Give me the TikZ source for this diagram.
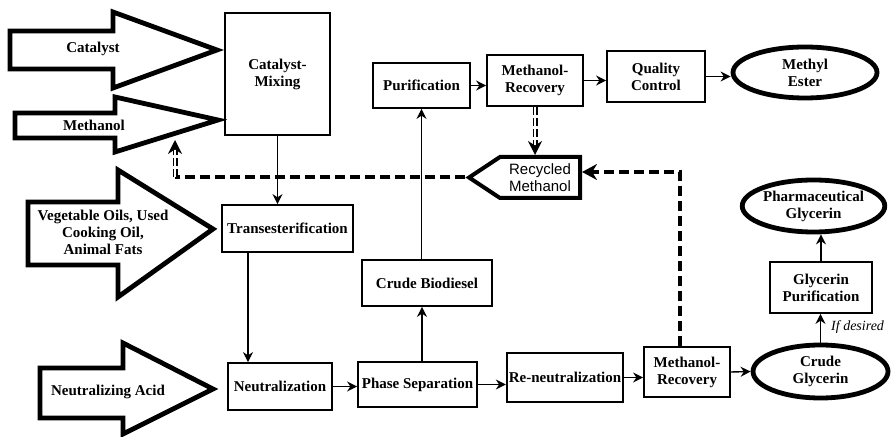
\documentclass[tikz,border=0pt]{standalone}
\usepackage{fontspec}
\setmainfont{Liberation Serif}
\newfontfamily\recycfont{Liberation Sans}
\usetikzlibrary{shapes.geometric, shapes.symbols, arrows.meta}

\begin{document}
\begin{tikzpicture}[x=0.5pt, y=-0.5pt,
    box/.style={draw, line width=0.9pt, align=center, inner sep=1pt, font=\fontsize{7.5}{8.5}\selectfont\bfseries},
    product/.style={ellipse, draw, line width=2.4pt, align=center, inner sep=0pt, font=\fontsize{7.5}{8.5}\selectfont\bfseries},
    feed/.style={draw, line width=2.4pt},
    feedtext/.style={align=center, font=\fontsize{7.5}{8.5}\selectfont\bfseries},
    recycbox/.style={signal, signal to=west, draw, line width=2pt, align=center, inner sep=1pt, font=\fontsize{7.5}{8.5}\selectfont\recycfont},
    flow/.style={line width=0.7pt, -{Stealth[length=5pt, width=5pt]}},
    recycle/.style={line width=2pt, dash pattern=on 5pt off 2.5pt},
    twin/.style={double, double distance=1.3pt, line width=0.6pt, dash pattern=on 4pt off 1.5pt}]
    \useasboundingbox (0,0) rectangle (892,437);

    % Draw feed arrows
    \draw[feed] (10,31) -- (113,31) -- (113,12) -- (217,50) -- (113,88) -- (113,69) -- (10,69) -- cycle;
    \draw[feed] (15,113) -- (115,113) -- (115,97) -- (218,120) -- (115,152) -- (115,138) -- (15,138) -- cycle;
    \draw[feed] (28,202) -- (118,202) -- (118,170) -- (213,229) -- (118,297) -- (118,265) -- (28,265) -- cycle;
    \draw[feed] (40,368) -- (123,368) -- (123,343) -- (213,389) -- (123,434) -- (123,418) -- (40,418) -- cycle;
    \node[feedtext] (catalyst) at (93,49) {Catalyst};
    \node[feedtext] (methanol) at (94,125) {Methanol};
    \node[feedtext] (oils) at (103,232) {Vegetable Oils, Used\\Cooking Oil,\\Animal Fats};
    \node[feedtext] (acid) at (108,392) {Neutralizing Acid};

    % Draw process steps
    \node[box, minimum width=52.5pt, minimum height=61pt] (mixing) at (277.5,74) {Catalyst-\\Mixing};
    \node[box, minimum width=48.5pt, minimum height=22.5pt] (purif) at (421.5,85.5) {Purification};
    \node[box, minimum width=48pt, minimum height=25.5pt] (mrec1) at (535,80.5) {Methanol-\\Recovery};
    \node[box, minimum width=49pt, minimum height=25.5pt] (quality) at (656,76.5) {Quality\\Control};
    \node[box, minimum width=65.5pt, minimum height=23.5pt] (trans) at (287.5,228.5) {Transesterification};
    \node[box, minimum width=65pt, minimum height=23pt] (biodiesel) at (427,283) {Crude Biodiesel};
    \node[box, minimum width=52pt, minimum height=23.5pt] (neutr) at (280,386.5) {Neutralization};
    \node[box, minimum width=59.5pt, minimum height=22.5pt] (phase) at (417.5,384.5) {Phase Separation};
    \node[box, minimum width=58pt, minimum height=24.5pt] (reneutr) at (565,377.5) {Re-neutralization};
    \node[box, minimum width=43pt, minimum height=25pt] (mrec2) at (687,372) {Methanol-\\Recovery};
    \node[box, minimum width=51pt, minimum height=25.5pt] (glypur) at (821,287.5) {Glycerin\\Purification};
    \node[recycbox, minimum width=55.5pt, minimum height=20.5pt, signal pointer angle=67] (recyc) at (540,177.5) {Recycled\\Methanol};

    % Draw products
    \node[product, minimum width=72pt, minimum height=25.5pt] (ester) at (805,72.5) {Methyl\\Ester};
    \node[product, minimum width=67.5pt, minimum height=26.5pt] (crudegly) at (820.5,371.5) {Crude\\Glycerin};
    \node[product, minimum width=68.5pt, minimum height=26pt] (pharm) at (813.5,206) {Pharmaceutical\\Glycerin};

    % Draw main flow
    \draw[flow] (mixing.south) -- (mixing.south |- trans.north);
    \draw[flow] ([xshift=-19.75pt]trans.south) -- ([xshift=-19.75pt]trans.south |- neutr.north);
    \draw[flow] (neutr.east) -- (neutr.east -| phase.west);
    \draw[flow] (phase.east) -- (phase.east -| reneutr.west);
    \draw[flow] (reneutr.east) -- (reneutr.east -| mrec2.west);
    \draw[flow] (mrec2.east) -- (crudegly.west);
    \draw[flow] ([xshift=2.25pt]phase.north) -- ([xshift=2.25pt]phase.north |- biodiesel.south);
    \draw[flow] (biodiesel.north -| purif.south) -- (purif.south);
    \draw[flow] (purif.east) -- (purif.east -| mrec1.west);
    \draw[flow] (mrec1.east) -- (mrec1.east -| quality.west);
    \draw[flow] (quality.east) -- (quality.east -| ester.west);
    \draw[flow] (crudegly.north) -- (crudegly.north |- glypur.south) node[pos=0.55, anchor=west, xshift=4pt, inner sep=1pt, font=\fontsize{7}{8}\selectfont\itshape] (ifdesired) {If desired};
    \draw[flow] (glypur.north) -- (glypur.north |- pharm.south);

    % Draw methanol recycling
    \coordinate (back) at (175,140);
    \draw[twin, -{Stealth[length=7pt, width=7pt]}] (mrec1.south) -- (mrec1.south |- recyc.north);
    \draw[recycle] (recyc.west) -- (recyc.west -| back);
    \draw[twin, -{Stealth[length=7pt, width=7pt]}] (recyc.west -| back) -- (back);
    \draw[recycle, -{Stealth[length=7.5pt, width=8pt]}] ([xshift=-3.5pt]mrec2.north) |- ([yshift=2.75pt]recyc.east);
\end{tikzpicture}
\end{document}
